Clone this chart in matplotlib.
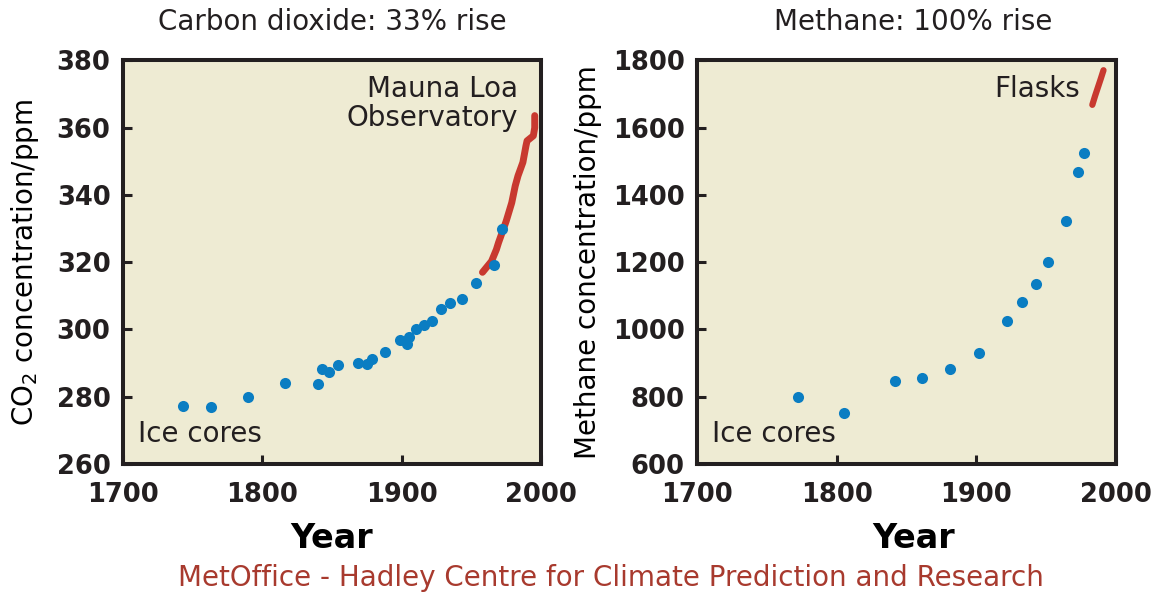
import matplotlib.pyplot as plt

# ice core CO2 (ppm)
co2_ice_year = [1743, 1763, 1790, 1816, 1840, 1843, 1848, 1854, 1869, 1875,
                1879, 1888, 1899, 1904, 1905, 1910, 1916, 1922, 1928, 1935,
                1943, 1953, 1966, 1972]
co2_ice_ppm = [277.2, 277.0, 280.0, 284.2, 283.8, 288.1, 287.4, 289.3, 290.0, 289.6,
               291.3, 293.3, 296.9, 295.7, 297.9, 300.1, 301.3, 302.5, 306.2, 307.9,
               309.0, 313.8, 319.1, 329.8]

# Mauna Loa record
co2_ml_year = [1958, 1964.5, 1968, 1969.5, 1975, 1979, 1981.5, 1983.5, 1987,
               1989.2, 1990, 1994.5, 1995.5, 1995.5]
co2_ml_ppm = [317.0, 320.3, 323.8, 325.8, 332.2, 337.7, 342.7, 345.7, 349.7,
              354.6, 356.1, 357.6, 360.0, 363.6]

# ice core methane (ppb, labelled ppm on the axis)
ch4_ice_year = [1772, 1805, 1842, 1861, 1881, 1902, 1922, 1933, 1943, 1951,
                1964, 1973, 1977]
ch4_ice_val = [798, 752, 848, 855, 883, 930, 1026, 1081, 1135, 1202,
               1322, 1467, 1524]

# flask measurements
ch4_flask_year = [1983, 1985, 1987, 1989, 1991]
ch4_flask_val = [1668, 1695, 1720, 1745, 1771]

year_ticks = [1700, 1800, 1900, 2000]
co2_ticks = [260, 280, 300, 320, 340, 360, 380]
ch4_ticks = [600, 800, 1000, 1200, 1400, 1600, 1800]

ink = '#231f20'
beige = '#eeebd3'
blue = '#0a7dc2'
red = '#c8392f'

plt.rcParams['font.family'] = ['DejaVu Sans']
plt.rcParams['text.color'] = ink

fig = plt.figure(figsize=(11.55, 5.94), dpi=100)
ax1 = fig.add_axes([0.1065, 0.2189, 0.3619, 0.6793])
ax2 = fig.add_axes([0.6035, 0.2189, 0.3628, 0.6793])

for ax in (ax1, ax2):
    ax.set_facecolor(beige)
    for s in ax.spines.values():
        s.set_linewidth(2.9)
        s.set_color(ink)
    ax.set_xlim(1700, 2000)
    ax.set_xticks(year_ticks)
    ax.tick_params(direction='in', length=6.5, width=2.2, color=ink,
                   labelsize=18.5, labelcolor=ink)
    ax.tick_params(axis='x', pad=13)
    ax.tick_params(axis='y', pad=9)
    for lab in ax.get_xticklabels() + ax.get_yticklabels():
        lab.set_fontweight('bold')

ax1.set_xlabel('Year', fontsize=24, fontweight='bold', labelpad=10)
ax2.set_xlabel('Year', fontsize=24, fontweight='bold', labelpad=10, x=0.516)

# carbon dioxide
ax1.scatter(co2_ice_year, co2_ice_ppm, s=64, color=blue, zorder=3, linewidths=0)
ax1.plot(co2_ml_year, co2_ml_ppm, color=red, lw=5, solid_capstyle='round',
         solid_joinstyle='round', zorder=2)
ax1.set_ylim(260, 380)
ax1.set_yticks(co2_ticks)
for lab in ax1.get_yticklabels():
    lab.set_fontweight('bold')
ax1.set_ylabel('CO$_2$ concentration/ppm', fontsize=20)
ax1.yaxis.set_label_coords(-0.195, 0.5)
ax1.set_title('Carbon dioxide: 33% rise', fontsize=20, pad=22)
ax1.text(0.945, 0.965, 'Mauna Loa\nObservatory', transform=ax1.transAxes,
         ha='right', va='top', fontsize=20, linespacing=1.05)
ax1.text(0.035, 0.04, 'Ice cores', transform=ax1.transAxes,
         ha='left', va='bottom', fontsize=20)

# methane
ax2.scatter(ch4_ice_year, ch4_ice_val, s=64, color=blue, zorder=3, linewidths=0)
ax2.plot(ch4_flask_year, ch4_flask_val, color=red, lw=4.5, solid_capstyle='round',
         zorder=2)
ax2.set_ylim(600, 1800)
ax2.set_yticks(ch4_ticks)
for lab in ax2.get_yticklabels():
    lab.set_fontweight('bold')
ax2.set_ylabel('Methane concentration/ppm', fontsize=20)
ax2.yaxis.set_label_coords(-0.227, 0.5)
ax2.set_title('Methane: 100% rise', fontsize=20, pad=22, x=0.516)
ax2.text(0.915, 0.965, 'Flasks', transform=ax2.transAxes,
         ha='right', va='top', fontsize=20)
ax2.text(0.035, 0.04, 'Ice cores', transform=ax2.transAxes,
         ha='left', va='bottom', fontsize=20)

fig.text(0.529, 0.027, 'MetOffice - Hadley Centre for Climate Prediction and Research',
         ha='center', va='center', fontsize=20, color='#a83a2e')

fig.savefig('out.png', dpi=100, facecolor='white')
